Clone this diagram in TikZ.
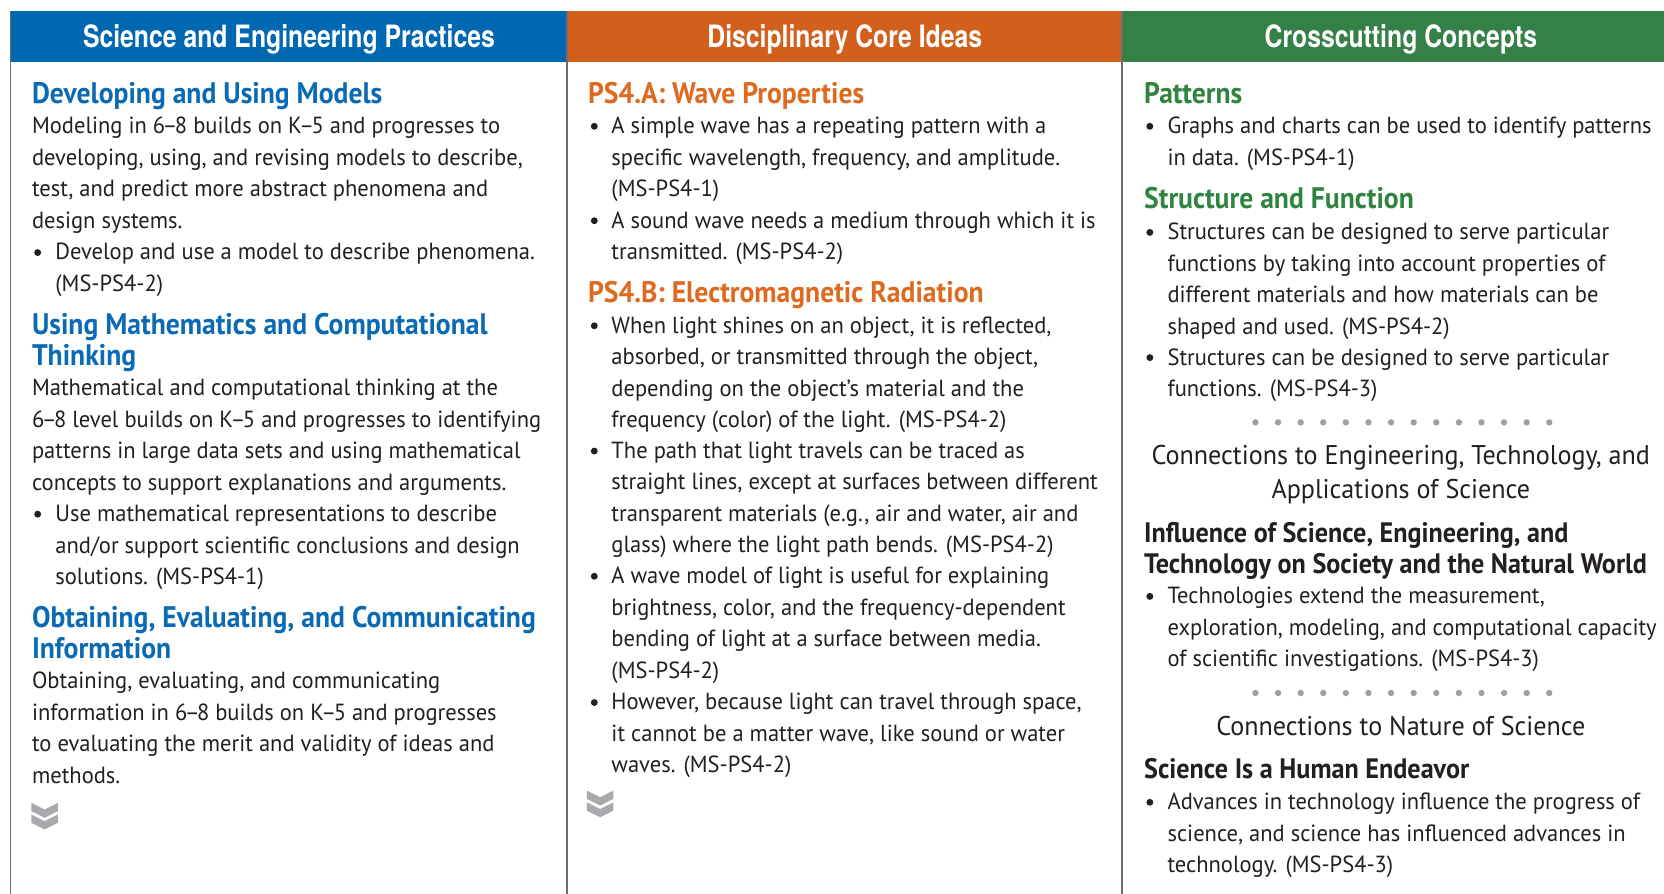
\documentclass[tikz,border=0pt]{standalone}
\usepackage{fontspec}
\setmainfont{PT Sans}
\newfontfamily\bodyf{PT Sans}[FakeStretch=0.965]
\newfontfamily\headf{PT Sans}[FakeStretch=0.93]
\newfontfamily\hdrf{TeX Gyre Heros}[FakeStretch=0.805]
\newcommand{\ndsh}{\kern-0.11em–\kern-0.11em}
\definecolor{blueH}{HTML}{0067B1}
\definecolor{orangeH}{HTML}{D25F1C}
\definecolor{greenH}{HTML}{358046}
\definecolor{blueT}{HTML}{0A6AB4}
\definecolor{orangeT}{HTML}{DD6A1F}
\definecolor{greenT}{HTML}{2F8540}
\definecolor{ink}{HTML}{231F20}
\definecolor{rulec}{HTML}{6D6E70}
\definecolor{chevc}{HTML}{A7A9AC}
\definecolor{dotc}{HTML}{A0A0A0}
\begin{document}
\begin{tikzpicture}[x=1pt,y=-1pt,
  hdrbox/.style={inner sep=0pt, minimum height=48pt, text height=21pt, text depth=0pt, text=white, font=\hdrf\bfseries\fontsize{29}{30}\selectfont},
  txt/.style={anchor=base west, inner sep=0pt, align=left, text=ink, font=\bodyf\fontsize{22}{29.65}\selectfont},
  ctr/.style={anchor=base, inner sep=0pt, align=center, text=ink, font=\bodyf\fontsize{25.5}{32}\selectfont},
  head/.style={anchor=base west, inner sep=0pt, align=left, font=\headf\bfseries\fontsize{28}{29.3}\selectfont},
  bhead/.style={anchor=base west, inner sep=0pt, align=left, text=ink, font=\headf\bfseries\fontsize{26.5}{29.3}\selectfont},
  bul/.style={circle, fill=ink, inner sep=0pt, minimum size=6.5pt},
  rule/.style={draw=rulec, line width=1.5pt},
  chev/.style={fill=chevc},
  sepdot/.style={fill=dotc}
]
\useasboundingbox (0,0) rectangle (1568,842);
\fill[white] (0,0) rectangle (1568,842);
% headers
\node[hdrbox, fill=blueH, minimum width=524.5pt] (hA) at (272.25,34) {Science and Engineering Practices};
\node[hdrbox, fill=orangeH, minimum width=523pt] (hB) at (796,34) {Disciplinary Core Ideas};
\node[hdrbox, fill=greenH, minimum width=525.5pt] (hC) at (1320,34) {Crosscutting Concepts};
% rules
\coordinate (r1t) at (10,10); \coordinate (r1b) at (10,842);
\coordinate (r2t) at (534.5,10); \coordinate (r2b) at (534.5,842);
\coordinate (r3t) at (1057.5,10); \coordinate (r3b) at (1057.5,842);
\draw[rule] (r1t) -- (r1b);
\draw[rule] (r2t) -- (r2b);
\draw[rule] (r3t) -- (r3b);

% ---------- column 1 (anchor = baseline of LAST line)
\node[head, text=blueT] (a1) at (30,97.5) {Developing and Using Models};
\node[txt] (a2) at (30,215) {Modeling in 6\ndsh8 builds on K\ndsh5 and progresses to\\developing, using, and revising models to describe,\\test, and predict more abstract phenomena and\\design systems.};
\node[bul] (a3d) at (35.5,238) {};
\node[txt] (a3) at (52,274.5) {Develop and use a model to describe phenomena.\\(MS-PS4-2)};
\node[head, text=blueT] (a4) at (30,344.3) {Using Mathematics and Computational\\Thinking};
\node[txt] (a5) at (30,462) {Mathematical and computational thinking at the\\6\ndsh8 level builds on K\ndsh5 and progresses to identifying\\patterns in large data sets and using mathematical\\concepts to support explanations and arguments.};
\node[bul] (a6d) at (35.5,484.5) {};
\node[txt] (a6) at (52,550.8) {Use mathematical representations to describe\\and/or support scientific conclusions and design\\solutions. (MS-PS4-1)};
\node[head, text=blueT] (a7) at (30,620.5) {Obtaining, Evaluating, and Communicating\\Information};
\node[txt] (a8) at (30,738) {Obtaining, evaluating, and communicating\\information in 6\ndsh8 builds on K\ndsh5 and progresses\\to evaluating the merit and validity of ideas and\\methods.};
\fill[chev] (29.5,756.5) -- ++(12.5,6.3) -- ++(12.5,-6.3) -- ++(0,7.8) -- ++(-12.5,6.3) -- ++(-12.5,-6.3) -- cycle;
\fill[chev] (29.5,767.5) -- ++(12.5,6.3) -- ++(12.5,-6.3) -- ++(0,7.8) -- ++(-12.5,6.3) -- ++(-12.5,-6.3) -- cycle;

% ---------- column 2
\node[head, text=orangeT] (b1) at (554,97.5) {PS4.A: Wave Properties};
\node[bul] (b2d) at (560,119) {};
\node[txt] (b2) at (576,185.3) {A simple wave has a repeating pattern with a\\specific wavelength, frequency, and amplitude.\\(MS-PS4-1)};
\node[bul] (b3d) at (560,208) {};
\node[txt] (b3) at (576,244.65) {A sound wave needs a medium through which it is\\transmitted. (MS-PS4-2)};
\node[head, text=orangeT] (b4) at (554,285.5) {PS4.B: Electromagnetic Radiation};
\node[bul] (b5d) at (560,307) {};
\node[txt] (b5) at (576,402.95) {When light shines on an object, it is reflected,\\absorbed, or transmitted through the object,\\depending on the object’s material and the\\frequency (color) of the light. (MS-PS4-2)};
\node[bul] (b6d) at (560,425) {};
\node[txt] (b6) at (576,520.95) {The path that light travels can be traced as\\straight lines, except at surfaces between different\\transparent materials (e.g., air and water, air and\\glass) where the light path bends. (MS-PS4-2)};
\node[bul] (b7d) at (560,543) {};
\node[txt] (b7) at (576,638.95) {A wave model of light is useful for explaining\\brightness, color, and the frequency-dependent\\bending of light at a surface between media.\\(MS-PS4-2)};
\node[bul] (b8d) at (560,662) {};
\node[txt] (b8) at (576,728.3) {However, because light can travel through space,\\it cannot be a matter wave, like sound or water\\waves. (MS-PS4-2)};
\fill[chev] (553,745) -- ++(12.5,6.3) -- ++(12.5,-6.3) -- ++(0,7.8) -- ++(-12.5,6.3) -- ++(-12.5,-6.3) -- cycle;
\fill[chev] (553,756) -- ++(12.5,6.3) -- ++(12.5,-6.3) -- ++(0,7.8) -- ++(-12.5,6.3) -- ++(-12.5,-6.3) -- cycle;

% ---------- column 3
\node[head, text=greenT] (c1) at (1078,97.5) {Patterns};
\node[bul] (c2d) at (1083.5,119) {};
\node[txt] (c2) at (1100,155.65) {Graphs and charts can be used to identify patterns\\in data. (MS-PS4-1)};
\node[head, text=greenT] (c3) at (1078,196.5) {Structure and Function};
\node[bul] (c4d) at (1083.5,219) {};
\node[txt] (c4) at (1100,314.95) {Structures can be designed to serve particular\\functions by taking into account properties of\\different materials and how materials can be\\shaped and used. (MS-PS4-2)};
\node[bul] (c5d) at (1083.5,337) {};
\node[txt] (c5) at (1100,373.65) {Structures can be designed to serve particular\\functions. (MS-PS4-3)};
\foreach \i in {0,...,13} \fill[sepdot] (1183+\i*21.3,398) circle (3pt);
\node[ctr] (c6) at (1320,470) {Connections to Engineering, Technology, and\\Applications of Science};
\node[bhead] (c7) at (1078,540.3) {Influence of Science, Engineering, and\\Technology on Society and the Natural World};
\node[bul] (c8d) at (1083.5,562) {};
\node[txt] (c8) at (1100,628.3) {Technologies extend the measurement,\\exploration, modeling, and computational capacity\\of scientific investigations. (MS-PS4-3)};
\foreach \i in {0,...,13} \fill[sepdot] (1183+\i*21.3,653) circle (3pt);
\node[ctr] (c9) at (1320,693) {Connections to Nature of Science};
\node[bhead] (c10) at (1078,734) {Science Is a Human Endeavor};
\node[bul] (c11d) at (1083.5,756) {};
\node[txt] (c11) at (1100,822.3) {Advances in technology influence the progress of\\science, and science has influenced advances in\\technology. (MS-PS4-3)};
\end{tikzpicture}
\end{document}
